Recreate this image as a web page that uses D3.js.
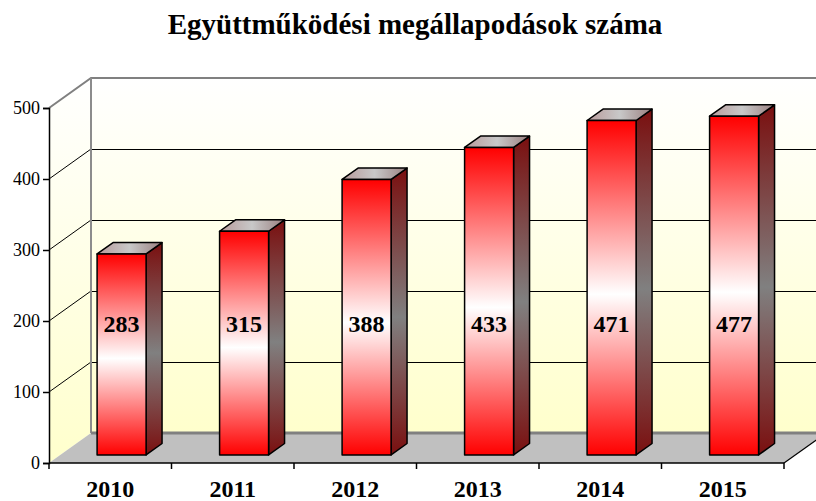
<!DOCTYPE html>
<html lang="hu">
<head>
<meta charset="UTF-8">
<title>Együttműködési megállapodások száma</title>
<script src="https://d3js.org/d3.v7.min.js"></script>
<style>
  body { margin: 0; background: #ffffff; }
</style>
</head>
<body>
<div id="chart"></div>
<script>
// adatok
const years = ["2010", "2011", "2012", "2013", "2014", "2015"];
const values = [283, 315, 388, 433, 471, 477];
const yTicks = [0, 100, 200, 300, 400, 500];
const title = "Együttműködési megállapodások száma";

const width = 816, height = 501;
const FONT = "'Liberation Serif', 'Times New Roman', Tinos, 'DejaVu Serif', serif";

// 3D doboz: elülső sík + mélység eltolás
const DX = 42, DY = -30;
const zFront = 0.27, zBack = 0.65; // oszlopok mélysége

const x = d3.scaleBand().domain(years).range([49, 784]).paddingInner(0.6).paddingOuter(0.3);
const y = d3.scaleLinear().domain([0, 500]).range([463, 108]);

// pont a térben: vízszintes px, érték, mélység (0..1)
const P = (px, v, z) => [px + z * DX, y(v) + z * DY];

const svg = d3.select("#chart").append("svg")
    .attr("width", width).attr("height", height)
    .attr("font-family", FONT);

const defs = svg.append("defs");

const wallGrad = defs.append("linearGradient").attr("id", "wall")
    .attr("x1", 0).attr("y1", 0).attr("x2", 0).attr("y2", 1);
wallGrad.append("stop").attr("offset", "0%").attr("stop-color", "#ffffff");
wallGrad.append("stop").attr("offset", "100%").attr("stop-color", "#ffffcc");

const frontGrad = defs.append("linearGradient").attr("id", "front")
    .attr("x1", 0).attr("y1", 0).attr("x2", 0).attr("y2", 1);
frontGrad.append("stop").attr("offset", "0%").attr("stop-color", "#ff0000");
frontGrad.append("stop").attr("offset", "52%").attr("stop-color", "#ffffff");
frontGrad.append("stop").attr("offset", "100%").attr("stop-color", "#ff0000");

const sideGrad = defs.append("linearGradient").attr("id", "side")
    .attr("x1", 0).attr("y1", 0).attr("x2", 0).attr("y2", 1);
sideGrad.append("stop").attr("offset", "0%").attr("stop-color", "#7a0f0f");
sideGrad.append("stop").attr("offset", "52%").attr("stop-color", "#808080");
sideGrad.append("stop").attr("offset", "100%").attr("stop-color", "#7a0f0f");

const topGrad = defs.append("linearGradient").attr("id", "topface")
    .attr("x1", 0).attr("y1", 0).attr("x2", 1).attr("y2", 0);
topGrad.append("stop").attr("offset", "0%").attr("stop-color", "#b89a9a");
topGrad.append("stop").attr("offset", "50%").attr("stop-color", "#c8c8c8");
topGrad.append("stop").attr("offset", "100%").attr("stop-color", "#9a8080");

const line = d3.line();
const xl = x.range()[0], xr = x.range()[1];

// hátsó fal
svg.append("path")
    .attr("d", line([P(xl, 0, 1), P(xl, 500, 1), P(xr, 500, 1), P(xr, 0, 1)]) + "Z")
    .attr("fill", "url(#wall)");
// bal oldalfal
svg.append("path")
    .attr("d", line([P(xl, 0, 0), P(xl, 500, 0), P(xl, 500, 1), P(xl, 0, 1)]) + "Z")
    .attr("fill", "url(#wall)");

// rácsvonalak
const grid = yTicks.filter(t => t > 0 && t < 500);
svg.selectAll(".gback").data(grid).enter().append("path")
    .attr("d", t => line([P(xl, t, 1), P(xr, t, 1)]))
    .attr("stroke", "#000").attr("stroke-width", 1).attr("fill", "none")
    .attr("transform", "translate(0,0.5)");
svg.selectAll(".gside").data(grid).enter().append("path")
    .attr("d", t => line([P(xl, t, 0), P(xl, t, 1)]))
    .attr("stroke", "#000").attr("stroke-width", 1).attr("fill", "none");

// falak szegélye
svg.append("path")
    .attr("d", line([P(xl, 500, 0), P(xl, 500, 1), P(xr, 500, 1)]))
    .attr("stroke", "#808080").attr("stroke-width", 2).attr("fill", "none");
svg.append("path")
    .attr("d", line([P(xl, 0, 1), P(xl, 500, 1)]))
    .attr("stroke", "#8c8c8c").attr("stroke-width", 2).attr("fill", "none");

// padló
svg.append("path")
    .attr("d", line([P(xl, 0, 0), P(xr, 0, 0), P(xr, 0, 1), P(xl, 0, 1)]) + "Z")
    .attr("fill", "#c0c0c0");
svg.append("path")
    .attr("d", line([P(xl, 0, 1), P(xr, 0, 1)]))
    .attr("stroke", "#808080").attr("stroke-width", 3).attr("fill", "none");
svg.append("path")
    .attr("d", line([P(xr, 0, 0), P(xr, 0, 1)]))
    .attr("stroke", "#000").attr("stroke-width", 1.2).attr("fill", "none");

// oszlopok
const bars = svg.selectAll(".bar").data(years.map((k, i) => ({ k, v: values[i] })))
    .enter().append("g").attr("class", "bar");

bars.append("path") // oldal
    .attr("d", d => {
        const x1 = x(d.k) + x.bandwidth();
        return line([P(x1, 0, zFront), P(x1, d.v, zFront), P(x1, d.v, zBack), P(x1, 0, zBack)]) + "Z";
    })
    .attr("fill", "url(#side)").attr("stroke", "#000").attr("stroke-width", 1.5)
    .attr("stroke-linejoin", "round");

bars.append("path") // teteje
    .attr("d", d => {
        const x0 = x(d.k), x1 = x0 + x.bandwidth();
        return line([P(x0, d.v, zFront), P(x1, d.v, zFront), P(x1, d.v, zBack), P(x0, d.v, zBack)]) + "Z";
    })
    .attr("fill", "url(#topface)").attr("stroke", "#000").attr("stroke-width", 1.5)
    .attr("stroke-linejoin", "round");

bars.append("path") // eleje
    .attr("d", d => {
        const x0 = x(d.k), x1 = x0 + x.bandwidth();
        return line([P(x0, 0, zFront), P(x0, d.v, zFront), P(x1, d.v, zFront), P(x1, 0, zFront)]) + "Z";
    })
    .attr("fill", "url(#front)").attr("stroke", "#000").attr("stroke-width", 1.5)
    .attr("stroke-linejoin", "round");

// értékcímkék
const labelLevel = 185;
bars.append("text")
    .attr("x", d => P(x(d.k) + x.bandwidth() / 2, labelLevel, zFront)[0])
    .attr("y", d => P(0, labelLevel, zFront)[1])
    .attr("dy", "0.35em")
    .attr("text-anchor", "middle")
    .attr("font-family", FONT)
    .attr("font-size", 24).attr("font-weight", "bold")
    .text(d => d.v);

// y tengely
const yAxis = svg.append("g").attr("transform", `translate(${xl},0)`)
    .call(d3.axisLeft(y).tickValues(yTicks).tickSize(6).tickPadding(3));
yAxis.attr("font-family", FONT);
yAxis.select(".domain").attr("stroke", "#000").attr("stroke-width", 1.5);
yAxis.selectAll(".tick line").attr("stroke", "#000").attr("stroke-width", 1.5);
yAxis.selectAll(".tick text")
    .attr("font-family", FONT)
    .attr("font-size", 18).attr("fill", "#000");

// x tengely
const xTickPos = d3.range(years.length + 1).map(i => xl + i * x.step());
svg.append("line")
    .attr("x1", xl).attr("x2", xr).attr("y1", y(0)).attr("y2", y(0))
    .attr("stroke", "#000").attr("stroke-width", 1.5);
svg.selectAll(".xtick").data(xTickPos).enter().append("line")
    .attr("x1", d => d).attr("x2", d => d)
    .attr("y1", y(0)).attr("y2", y(0) + 6)
    .attr("stroke", "#000").attr("stroke-width", 1.5);
svg.selectAll(".xlab").data(years).enter().append("text")
    .attr("x", d => x(d) + x.bandwidth() / 2)
    .attr("y", 497)
    .attr("text-anchor", "middle")
    .attr("font-family", FONT)
    .attr("font-size", 24).attr("font-weight", "bold")
    .text(d => d);

// cím
svg.append("text")
    .attr("x", 415).attr("y", 34)
    .attr("text-anchor", "middle")
    .attr("font-family", FONT)
    .attr("font-size", 29).attr("font-weight", "bold")
    .text(title);
</script>
</body>
</html>
